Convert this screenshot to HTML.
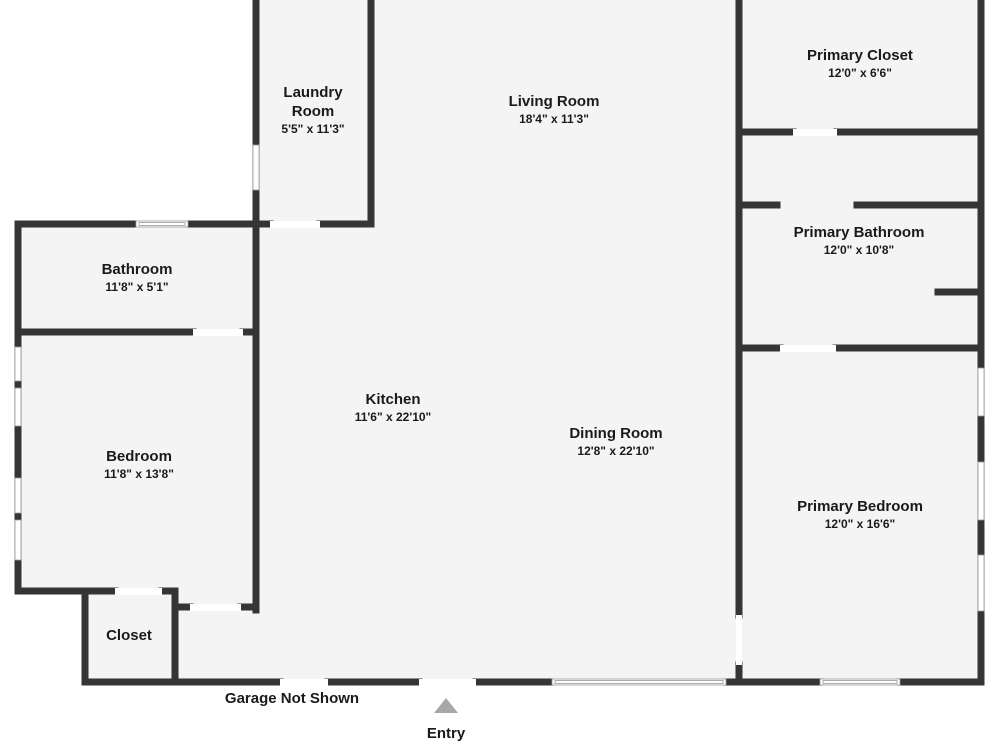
<!DOCTYPE html>
<html><head><meta charset="utf-8"><style>
body{margin:0;background:#fff;width:1000px;height:750px;overflow:hidden}
text{font-family:"Liberation Sans",Arial,sans-serif;fill:#1a1a1a;text-anchor:middle}
.n{font-size:15px;font-weight:bold}
.d{font-size:12px;font-weight:bold}
</style></head><body>
<svg width="1000" height="750" viewBox="0 0 1000 750" xmlns="http://www.w3.org/2000/svg">
<g fill="#f4f4f4">
<rect x="256" y="0" width="115" height="224"/>
<rect x="371" y="0" width="368" height="682"/>
<rect x="256" y="224" width="115" height="458"/>
<rect x="739" y="0" width="242" height="682"/>
<rect x="18" y="224" width="238" height="367"/>
<rect x="85" y="591" width="171" height="91"/>
</g>
<g stroke="#353535" stroke-width="7" fill="none" stroke-linecap="square">
<!-- laundry -->
<path d="M256 0V610"/><path d="M371 0V224"/>
<path d="M256 224H270M320 224H371"/>
<!-- main right wall -->
<path d="M739 0V615M739 665V682"/>
<path d="M981 0V682"/>
<path d="M739 132H793M837 132H981"/>
<path d="M739 205H777M857 205H981"/>
<path d="M938 292H981"/>
<path d="M739 348H780M836 348H981"/>
<!-- left -->
<path d="M18 224H133M190 224H256"/>
<path d="M18 224V591"/>
<path d="M18 332H193M243 332H256"/>
<path d="M18 591H115M162 591H175"/>
<path d="M85 591V682"/><path d="M175 591V682"/>
<path d="M175 607H190M241 607H256"/>
<!-- bottom -->
<path d="M85 682H280M328 682H419M476 682H550M727 682H820M900 682H981"/>
</g>
<g fill="#fff" stroke="#999" stroke-width="0.8">
<rect x="253" y="145" width="6" height="45"/>
<rect x="136" y="221" width="52" height="6"/>
<rect x="139" y="222.5" width="46" height="3"/>
<rect x="15" y="347" width="6" height="34"/><rect x="15" y="388" width="6" height="38"/>
<rect x="15" y="478" width="6" height="35"/><rect x="15" y="520" width="6" height="40"/>
<rect x="978" y="368" width="6" height="48"/><rect x="978" y="462" width="6" height="58"/><rect x="978" y="555" width="6" height="56"/>
<rect x="552" y="679" width="174" height="6"/><rect x="555" y="680.5" width="168" height="3"/>
<rect x="820" y="679" width="80" height="6"/><rect x="823" y="680.5" width="74" height="3"/>
</g>
<g fill="#fff">
<rect x="270" y="221" width="50" height="7"/><rect x="793" y="129" width="44" height="7"/>
<rect x="780" y="345" width="56" height="7"/><rect x="193" y="329" width="50" height="7"/>
<rect x="115" y="588" width="47" height="7"/><rect x="190" y="604" width="51" height="7"/>
<rect x="280" y="679" width="48" height="7"/><rect x="419" y="679" width="57" height="7"/>
<rect x="736" y="615" width="6" height="50"/>
</g>
<polygon points="434,713 458,713 446,698" fill="#a8a8a8"/>
<text class="n" x="313" y="97">Laundry</text><text class="n" x="313" y="116">Room</text><text class="d" x="313" y="133">5'5" x 11'3"</text>
<text class="n" x="554" y="106">Living Room</text><text class="d" x="554" y="123">18'4" x 11'3"</text>
<text class="n" x="860" y="60">Primary Closet</text><text class="d" x="860" y="77">12'0" x 6'6"</text>
<text class="n" x="859" y="237">Primary Bathroom</text><text class="d" x="859" y="254">12'0" x 10'8"</text>
<text class="n" x="137" y="274">Bathroom</text><text class="d" x="137" y="291">11'8" x 5'1"</text>
<text class="n" x="139" y="461">Bedroom</text><text class="d" x="139" y="478">11'8" x 13'8"</text>
<text class="n" x="393" y="404">Kitchen</text><text class="d" x="393" y="421">11'6" x 22'10"</text>
<text class="n" x="616" y="438">Dining Room</text><text class="d" x="616" y="455">12'8" x 22'10"</text>
<text class="n" x="860" y="511">Primary Bedroom</text><text class="d" x="860" y="528">12'0" x 16'6"</text>
<text class="n" x="129" y="640">Closet</text>
<text class="n" x="292" y="703">Garage Not Shown</text>
<text class="n" x="446" y="738">Entry</text>
</svg>
</body></html>
